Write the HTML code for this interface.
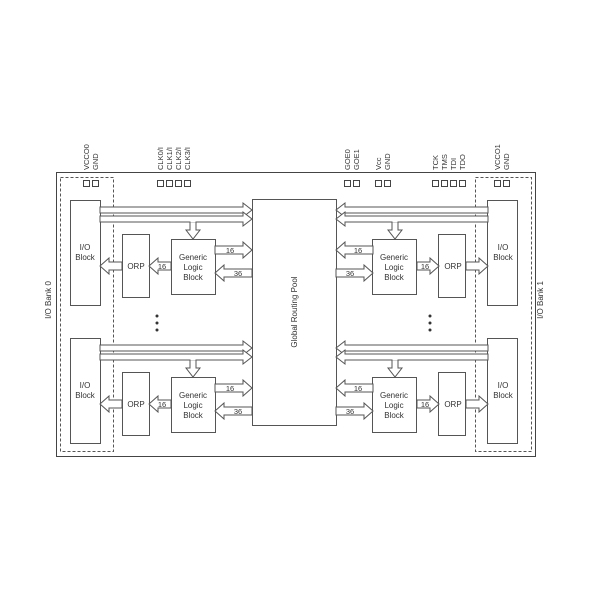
<!DOCTYPE html>
<html><head><style>html,body{margin:0;padding:0;background:#fff}svg{display:block}</style></head>
<body>
<svg id="s" width="600" height="600" viewBox="0 0 600 600" xmlns="http://www.w3.org/2000/svg" font-family="Liberation Sans, sans-serif" fill="none" stroke="#555" stroke-width="1">
<rect x="56.5" y="172.5" width="479" height="284" stroke="#444"/>
<rect x="60.5" y="177.5" width="53" height="274" stroke-dasharray="3,2"/>
<rect x="475.5" y="177.5" width="56" height="274" stroke-dasharray="3,2"/>
<rect x="252.5" y="199.5" width="84" height="226"/>
<g id="L">
<rect x="70.5" y="200.5" width="30" height="105"/>
<rect x="122.5" y="234.5" width="27" height="63"/>
<rect x="171.5" y="239.5" width="44" height="55"/>
<polygon fill="#fff" points="100,207 243,207 243,203 252,210 243,217 243,213 100,213"/>
<polygon fill="#fff" points="100,216 243,216 243,212 252,219 243,226 243,222 100,222"/>
<polygon fill="#fff" points="190,222 190,230 186,230 193,239 200,230 196,230 196,222"/>
<line x1="190.5" y1="221.5" x2="195.5" y2="221.5" stroke="#fff" stroke-width="1.5"/>
<polygon fill="#fff" points="215,246 243,246 243,242 252,250 243,258 243,254 215,254"/>
<polygon fill="#fff" points="252,269 224,269 224,265 215,273 224,281 224,277 252,277"/>
<polygon fill="#fff" points="171,262 158,262 158,258 149,266 158,274 158,270 171,270"/>
<polygon fill="#fff" points="122,262 109,262 109,258 100,266 109,274 109,270 122,270"/>
</g>
<use href="#L" y="138"/>
<use href="#L" transform="translate(588,0) scale(-1,1)"/>
<use href="#L" transform="translate(588,138) scale(-1,1)"/>
<g fill="#fff" stroke="#444">
<rect x="83.5" y="180.5" width="6" height="6"/><rect x="92.5" y="180.5" width="6" height="6"/>
<rect x="157.5" y="180.5" width="6" height="6"/><rect x="166.5" y="180.5" width="6" height="6"/><rect x="175.5" y="180.5" width="6" height="6"/><rect x="184.5" y="180.5" width="6" height="6"/>
<rect x="344.5" y="180.5" width="6" height="6"/><rect x="353.5" y="180.5" width="6" height="6"/>
<rect x="375.5" y="180.5" width="6" height="6"/><rect x="384.5" y="180.5" width="6" height="6"/>
<rect x="432.5" y="180.5" width="6" height="6"/><rect x="441.5" y="180.5" width="6" height="6"/><rect x="450.5" y="180.5" width="6" height="6"/><rect x="459.5" y="180.5" width="6" height="6"/>
<rect x="494.5" y="180.5" width="6" height="6"/><rect x="503.5" y="180.5" width="6" height="6"/>
</g>
<g fill="#333" stroke="#333" stroke-width="0">
<circle cx="157" cy="316" r="1.5"/><circle cx="157" cy="323" r="1.5"/><circle cx="157" cy="330" r="1.5"/>
<circle cx="430" cy="316" r="1.5"/><circle cx="430" cy="323" r="1.5"/><circle cx="430" cy="330" r="1.5"/>
</g>
<g fill="#333" stroke="none" font-size="8" text-anchor="middle">
<text x="85" y="250">I/O</text><text x="85" y="260">Block</text>
<text x="85" y="388">I/O</text><text x="85" y="398">Block</text>
<text x="503" y="250">I/O</text><text x="503" y="260">Block</text>
<text x="503" y="388">I/O</text><text x="503" y="398">Block</text>
<text x="136" y="269">ORP</text><text x="136" y="407">ORP</text>
<text x="453" y="269">ORP</text><text x="453" y="407">ORP</text>
<text x="193" y="260">Generic</text><text x="193" y="270">Logic</text><text x="193" y="280">Block</text>
<text x="193" y="398">Generic</text><text x="193" y="408">Logic</text><text x="193" y="418">Block</text>
<text x="394" y="260">Generic</text><text x="394" y="270">Logic</text><text x="394" y="280">Block</text>
<text x="394" y="398">Generic</text><text x="394" y="408">Logic</text><text x="394" y="418">Block</text>
<text font-size="7.5" x="230" y="253">16</text><text font-size="7.5" x="238" y="276">36</text>
<text font-size="7.5" x="230" y="391">16</text><text font-size="7.5" x="238" y="414">36</text>
<text font-size="7.5" x="358" y="253">16</text><text font-size="7.5" x="350" y="276">36</text>
<text font-size="7.5" x="358" y="391">16</text><text font-size="7.5" x="350" y="414">36</text>
<text font-size="7.5" x="162" y="269">16</text><text font-size="7.5" x="162" y="407">16</text>
<text font-size="7.5" x="425" y="269">16</text><text font-size="7.5" x="425" y="407">16</text>
<text transform="translate(297,312) rotate(-90)">Global Routing Pool</text>
<text transform="translate(51,300) rotate(-90)">I/O Bank 0</text>
<text transform="translate(543,300) rotate(-90)">I/O Bank 1</text>
</g>
<g fill="#333" stroke="none" font-size="7.5" text-anchor="start">
<text transform="translate(89,170) rotate(-90)">VCCO0</text><text transform="translate(98,170) rotate(-90)">GND</text>
<text transform="translate(163,170) rotate(-90)">CLK0/I</text><text transform="translate(172,170) rotate(-90)">CLK1/I</text><text transform="translate(181,170) rotate(-90)">CLK2/I</text><text transform="translate(190,170) rotate(-90)">CLK3/I</text>
<text transform="translate(350,170) rotate(-90)">GOE0</text><text transform="translate(359,170) rotate(-90)">GOE1</text>
<text transform="translate(381,170) rotate(-90)">Vcc</text><text transform="translate(390,170) rotate(-90)">GND</text>
<text transform="translate(438,170) rotate(-90)">TCK</text><text transform="translate(447,170) rotate(-90)">TMS</text><text transform="translate(456,170) rotate(-90)">TDI</text><text transform="translate(465,170) rotate(-90)">TDO</text>
<text transform="translate(500,170) rotate(-90)">VCCO1</text><text transform="translate(509,170) rotate(-90)">GND</text>
</g>
</svg>
</body></html>
